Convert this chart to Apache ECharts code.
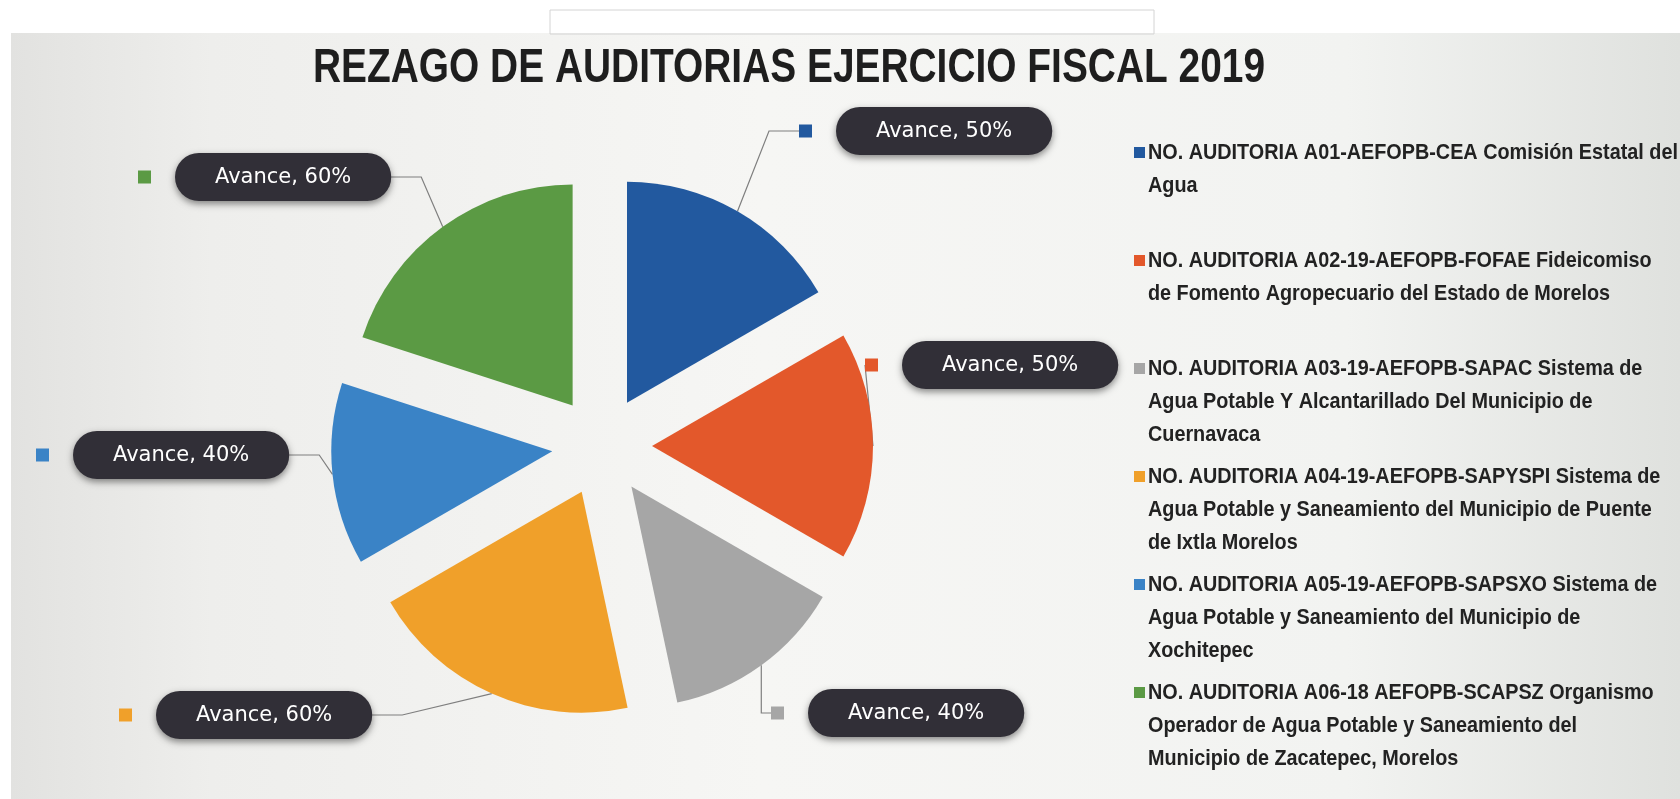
<!DOCTYPE html>
<html lang="es">
<head>
    <meta charset="UTF-8">
    <title>Rezago de auditorias 2019</title>
    <style>
        * {
            margin: 0px;
            padding: 0px;
        }

        #main {
            width: 1680px;
            height: 799px;
            background-color: #ffffff;
        }
    </style>
</head>
<body>
<div id="main"></div>

<script src="https://cdn.jsdelivr.net/npm/echarts@6/dist/echarts.min.js"></script>
<script type="text/javascript">
    // datos de la grafica
    var titulo = 'REZAGO DE AUDITORIAS EJERCICIO FISCAL 2019';
    var categorias = [
        'NO. AUDITORIA A01-AEFOPB-CEA Comisión Estatal del\nAgua',
        'NO. AUDITORIA A02-19-AEFOPB-FOFAE Fideicomiso\nde Fomento Agropecuario del Estado de Morelos',
        'NO. AUDITORIA A03-19-AEFOPB-SAPAC Sistema de\nAgua Potable Y Alcantarillado Del Municipio de\nCuernavaca',
        'NO. AUDITORIA A04-19-AEFOPB-SAPYSPI Sistema de\nAgua Potable y Saneamiento del Municipio de Puente\nde Ixtla Morelos',
        'NO. AUDITORIA A05-19-AEFOPB-SAPSXO Sistema de\nAgua Potable y Saneamiento del Municipio de\nXochitepec',
        'NO. AUDITORIA A06-18 AEFOPB-SCAPSZ Organismo\nOperador de Agua Potable y Saneamiento del\nMunicipio de Zacatepec, Morelos'
    ];
    var avance = [50, 50, 40, 60, 40, 60];
    var nombreValor = 'Avance';

    // estilo
    var colores = ['#22599f', '#e3582b', '#a6a6a6', '#f0a02a', '#3a83c6', '#5b9a44'];
    // posicion de las etiquetas (cuadro + globo)
    var posEtiquetas = [[799, 131], [865, 365], [771, 713], [119, 715], [36, 455], [138, 177]];
    var centro = [602, 446];
    var radio = 221;
    var separacion = 50;

    var rich = {
        gap: {width: 24},
        pill: {
            backgroundColor: '#312f37',
            color: '#ffffff',
            fontFamily: 'DejaVu Sans',
            fontSize: 21,
            padding: [14, 40, 13, 40],
            borderRadius: 27,
            shadowBlur: 7,
            shadowOffsetY: 3,
            shadowColor: 'rgba(0,0,0,0.45)'
        }
    };
    colores.forEach(function (c, i) {
        rich['sq' + i] = {width: 13, height: 13, backgroundColor: c};
    });

    // pastel separado: una serie por rebanada, desplazada sobre su angulo medio
    var total = avance.reduce(function (a, b) { return a + b; }, 0);
    var acumulado = 0;
    var series = avance.map(function (v, i) {
        var medio = (90 - (acumulado + v / 2) / total * 360) * Math.PI / 180;
        acumulado += v;
        return {
            type: 'pie',
            silent: true,
            center: [centro[0] + separacion * Math.cos(medio), centro[1] - separacion * Math.sin(medio)],
            radius: radio,
            startAngle: 90,
            clockwise: true,
            avoidLabelOverlap: false,
            itemStyle: {borderWidth: 0},
            data: categorias.map(function (nombre, j) {
                return {
                    name: nombre,
                    value: avance[j],
                    itemStyle: {color: j === i ? colores[j] : 'rgba(0,0,0,0)'},
                    label: {show: j === i},
                    labelLine: {show: j === i}
                };
            }),
            label: {
                position: 'outside',
                formatter: function (p) {
                    return '{sq' + p.dataIndex + '|}{gap|}{pill|' + nombreValor + ', ' + p.value + '%}';
                },
                rich: rich
            },
            labelLine: {
                lineStyle: {color: '#7f7f7f', width: 1.2}
            },
            labelLayout: function (params) {
                var p = posEtiquetas[params.dataIndex];
                return {x: p[0], y: p[1], align: 'left', verticalAlign: 'middle'};
            }
        };
    });

    // leyenda a la derecha
    var leyenda = [];
    categorias.forEach(function (nombre, i) {
        var y = 153 + i * 108;
        leyenda.push({
            type: 'rect', z: 5,
            shape: {x: 1134, y: y - 6, width: 11, height: 11},
            style: {fill: colores[i]}
        });
        leyenda.push({
            type: 'text', z: 5, x: 1148, y: y - 16.5, scaleX: 0.9,
            style: {
                text: nombre,
                lineHeight: 33,
                fill: '#222222',
                font: 'bold 22px "Liberation Sans", sans-serif',
                verticalAlign: 'top'
            }
        });
    });

    var myChart = echarts.init(document.getElementById('main'));
    myChart.setOption({
        animation: false,
        graphic: [
            {
                type: 'rect', z: -10,
                shape: {x: 11, y: 33, width: 1669, height: 766},
                style: {
                    fill: {
                        type: 'linear', x: 0, y: 0, x2: 1, y2: 0,
                        colorStops: [
                            {offset: 0, color: '#e2e2e0'},
                            {offset: 0.12, color: '#eeeeec'},
                            {offset: 0.45, color: '#f6f6f4'},
                            {offset: 0.8, color: '#f2f3f1'},
                            {offset: 1, color: '#dfe1de'}
                        ]
                    }
                }
            },
            {
                type: 'rect', z: -10,
                shape: {x: 550, y: 10, width: 604, height: 24},
                style: {fill: 'none', stroke: '#d4d4d4', lineWidth: 1}
            },
            {
                type: 'text', z: 5, x: 313, y: 69, scaleX: 0.81,
                style: {
                    text: titulo,
                    fill: '#1e1e1e',
                    font: 'bold 48px "Liberation Sans", sans-serif',
                    verticalAlign: 'middle'
                }
            }
        ].concat(leyenda),
        series: series
    });
</script>
</body>
</html>
